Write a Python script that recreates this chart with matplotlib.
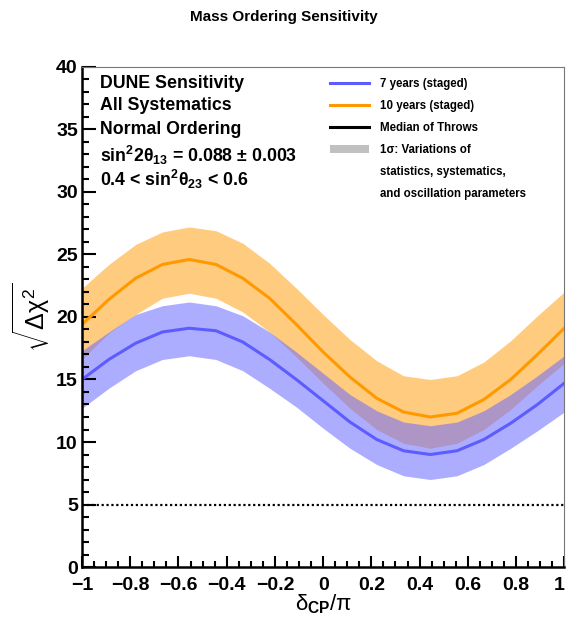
import numpy as np
import matplotlib
matplotlib.use('Agg')
import matplotlib.pyplot as plt
from matplotlib.lines import Line2D
from matplotlib.patches import Patch

plt.rcParams['font.family'] = ['Liberation Sans', 'DejaVu Sans']
plt.rcParams['mathtext.fontset'] = 'custom'
plt.rcParams['mathtext.rm'] = 'Liberation Sans'
plt.rcParams['mathtext.it'] = 'Liberation Sans'
plt.rcParams['mathtext.bf'] = 'Liberation Sans:bold'

# delta_CP / pi scan points
dcp = np.linspace(-1, 1, 19)

# 7 years (staged): median and 1 sigma band
med_7 = [15.0, 16.6, 17.9, 18.8, 19.1, 18.9, 18.0, 16.6, 15.0, 13.3, 11.6, 10.2, 9.3, 9.0, 9.3, 10.2, 11.5, 13.0, 14.7]
hi_7 = [17.3, 18.8, 20.2, 20.9, 21.2, 20.9, 20.1, 18.8, 17.2, 15.5, 13.8, 12.5, 11.6, 11.3, 11.6, 12.5, 13.8, 15.3, 16.9]
lo_7 = [12.7, 14.3, 15.7, 16.6, 16.9, 16.6, 15.7, 14.3, 12.8, 11.1, 9.5, 8.2, 7.3, 7.0, 7.3, 8.2, 9.5, 10.9, 12.4]

# 10 years (staged): median and 1 sigma band
med_10 = [19.4, 21.4, 23.1, 24.2, 24.6, 24.2, 23.1, 21.5, 19.4, 17.2, 15.2, 13.5, 12.4, 12.0, 12.3, 13.4, 15.0, 17.0, 19.1]
hi_10 = [22.3, 24.2, 25.8, 26.8, 27.2, 26.9, 25.9, 24.3, 22.3, 20.2, 18.2, 16.5, 15.3, 15.0, 15.3, 16.4, 18.1, 20.1, 22.0]
lo_10 = [16.6, 18.7, 20.2, 21.5, 21.9, 21.5, 20.4, 18.8, 16.8, 14.7, 12.7, 11.0, 9.9, 9.5, 9.9, 11.0, 12.6, 14.5, 16.3]

ref_level = 5

fig = plt.figure(figsize=(5.68, 6.17), dpi=100)
ax = fig.add_axes([0.1444, 0.081, 0.849, 0.8105])

ax.fill_between(dcp, lo_10, hi_10, color=(1.0, 0.6, 0.0), alpha=0.5, lw=0)
ax.fill_between(dcp, lo_7, hi_7, color=(0.42, 0.42, 1.0), alpha=0.55, lw=0)
ax.plot(dcp, med_7, color='#5c5cff', lw=2.2)
ax.plot(dcp, med_10, color='#ff9900', lw=2.2)
ax.axhline(ref_level, color='black', ls=(0, (1, 1.2)), lw=1.6)

ax.set_xlim(-1, 1)
ax.set_ylim(0, 40)
ax.set_xticks(np.arange(-1, 1.01, 0.2))
ax.set_xticks(np.arange(-1, 1.01, 0.05), minor=True)
ax.set_yticks(np.arange(0, 41, 5))
ax.set_yticks(np.arange(0, 41, 1), minor=True)
ax.set_xticklabels(['\u22121', '\u22120.8', '\u22120.6', '\u22120.4', '\u22120.2', '0', '0.2', '0.4', '0.6', '0.8', '1'])
ax.tick_params(axis='both', which='both', direction='in', width=1.5, labelsize=14)
ax.tick_params(axis='y', which='major', length=10, pad=3)
ax.tick_params(axis='y', which='minor', length=5)
ax.tick_params(axis='x', which='major', length=8, pad=7)
ax.tick_params(axis='x', which='minor', length=4)
for lab in ax.get_xticklabels() + ax.get_yticklabels():
    lab.set_fontweight('bold')
ax.get_xticklabels()[-1].set_horizontalalignment('right')

ax.spines['left'].set_linewidth(1.8)
ax.spines['bottom'].set_linewidth(1.8)
for s in ('top', 'right'):
    ax.spines[s].set_linewidth(0.8)
    ax.spines[s].set_color('#777777')

ax.set_xlabel(r'$\delta_{\mathbf{CP}}/\pi$', fontsize=16, labelpad=-1)
ax.set_ylabel(r'$\sqrt{\Delta\chi^{2}}$', fontsize=18, labelpad=2)

fig.text(0.5, 0.972, 'Mass Ordering Sensitivity', ha='center', va='center',
         fontsize=11, fontweight='bold')

info = ['DUNE Sensitivity', 'All Systematics', 'Normal Ordering',
        r'sin$^{\mathbf{2}}$2$\mathbf{\theta_{13}}$ = 0.088 $\mathbf{\pm}$ 0.003',
        r'0.4 < sin$^{\mathbf{2}}$$\mathbf{\theta_{23}}$ < 0.6']
info_y = [83, 106, 129, 155, 179]
for txt, yp in zip(info, info_y):
    fig.text(100 / 568, 1 - yp / 617, txt, ha='left', va='center',
             fontsize=12.8, fontweight='bold')

handles = [Line2D([], [], color='#5c5cff', lw=2.2),
           Line2D([], [], color='#ff9900', lw=2.2),
           Line2D([], [], color='black', lw=2.2),
           Patch(facecolor='#c0c0c0', edgecolor='none'),
           Line2D([], [], color='none'),
           Line2D([], [], color='none')]
labels = ['7 years (staged)', '10 years (staged)', 'Median of Throws',
          '1\u03c3: Variations of', 'statistics, systematics,',
          'and oscillation parameters']
leg = ax.legend(handles, labels, loc='upper left',
                bbox_to_anchor=(330 / 568, 1 - 78 / 617),
                bbox_transform=fig.transFigure, frameon=False,
                prop={'weight': 'bold', 'size': 8.3},
                handlelength=3.4, handletextpad=0.9, labelspacing=0.86,
                borderpad=0, borderaxespad=0)

fig.savefig('out.png', dpi=100)
